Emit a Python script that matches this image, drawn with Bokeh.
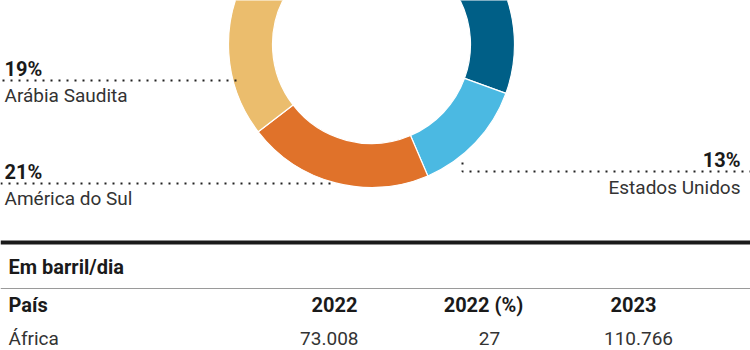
import math
from bokeh.plotting import figure
from bokeh.models import Range1d, ColumnDataSource
from bokeh.core.properties import value
from bokeh.embed import file_html
from bokeh.resources import INLINE

# ---- data ----
segments = ["África", "Estados Unidos", "América do Sul", "Arábia Saudita", "Outros"]
shares = [27, 13, 21, 19, 20]
seg_colors = ["#005f87", "#4bb9e2", "#e0722a", "#ebbd6d", "#c9c9c9"]

label_names = ["Arábia Saudita", "América do Sul", "Estados Unidos"]
label_pcts = ["19%", "21%", "13%"]

table_title = "Em barril/dia"
col_names = ["País", "2022", "2022 (%)", "2023"]
row_pais = ["África"]
row_2022 = ["73.008"]
row_2022pct = ["27"]
row_2023 = ["110.766"]

W, H = 750, 350
FONT = "Roboto"
DY = -6  # baseline correction

p = figure(width=W, height=H, output_backend="svg", toolbar_location=None,
           x_range=Range1d(0, W), y_range=Range1d(0, H), min_border=0)
p.axis.visible = False
p.grid.visible = False
p.outline_line_color = None
p.background_fill_color = "white"
p.border_fill_color = "white"

def Y(py):
    return H - py

def T(py):
    return H - (py + DY)

# ---- donut ----
cx, cy, R, r = 371, 44, 143, 99
start = 77.2  # degrees, top edge of first segment; segments go clockwise
total = sum(shares)
starts, ends = [], []
a = start
for s in shares:
    b = a - 360.0 * s / total
    starts.append(math.radians(b))
    ends.append(math.radians(a))
    a = b
src = ColumnDataSource(dict(start=starts, end=ends, color=seg_colors))
p.annular_wedge(x=cx, y=Y(cy), inner_radius=r, outer_radius=R,
                start_angle="start", end_angle="end", fill_color="color",
                line_color="white", line_width=1.2, source=src)

# ---- leader lines (dotted) ----
dot = dict(line_color="#222222", line_width=2, line_dash="2 6")
p.line([2, 240], [Y(80), Y(80)], **dot)
p.line([0, 336], [Y(183), Y(183)], **dot)
p.line([462, 462, 750], [Y(162), Y(171), Y(171)], **dot)

# ---- labels ----
bold = dict(text_font=value(FONT), text_font_style="bold", text_color="#1a1a1a",
            text_font_size="20px", text_baseline="alphabetic")
reg = dict(text_font=value(FONT), text_font_style="normal", text_color="#333333",
           text_font_size="19px", text_baseline="alphabetic")

p.text(x=[4], y=[T(74)], text=[label_pcts[0]], text_align="left", **bold)
p.text(x=[4], y=[T(101)], text=[label_names[0]], text_align="left", **reg)
p.text(x=[4], y=[T(177)], text=[label_pcts[1]], text_align="left", **bold)
p.text(x=[4], y=[T(204)], text=[label_names[1]], text_align="left", **reg)
p.text(x=[740], y=[T(165)], text=[label_pcts[2]], text_align="right", **bold)
p.text(x=[740], y=[T(193)], text=[label_names[2]], text_align="right", **reg)

# ---- table ----
p.line([0, W], [Y(242), Y(242)], line_color="#1a1a1a", line_width=4)
p.line([0, W], [Y(288), Y(288)], line_color="#9a9a9a", line_width=1.2)

tb = dict(bold); tb["text_font_size"] = "20px"
tr = dict(reg); tr["text_font_size"] = "19px"
p.text(x=[8], y=[T(272)], text=[table_title], text_align="left", **tb)

hdr_x = [8, 357, 483, 633]
hdr_align = ["left", "right", "center", "center"]
val_x = [8, 358, 489, 638]
for i, name in enumerate(col_names):
    p.text(x=[hdr_x[i]], y=[T(310)], text=[name], text_align=hdr_align[i], **tb)

cols = [row_pais, row_2022, row_2022pct, row_2023]
for i, col in enumerate(cols):
    for j, v in enumerate(col):
        p.text(x=[val_x[i]], y=[T(344 + 38 * j)], text=[v], text_align=hdr_align[i], **tr)

open("out.html", "w").write(file_html(p, INLINE))
